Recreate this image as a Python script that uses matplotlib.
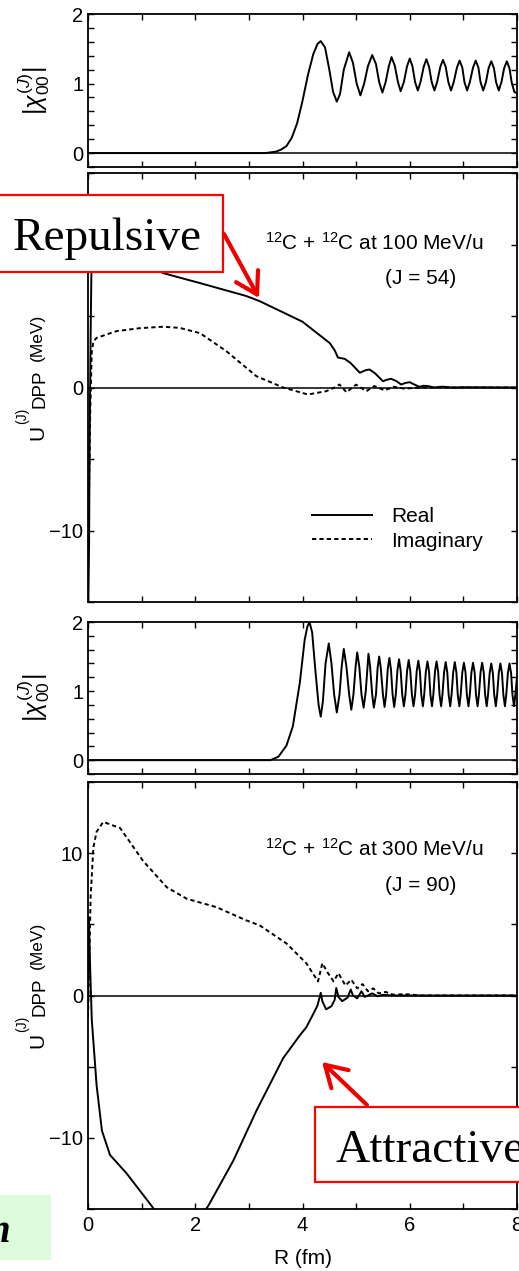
import matplotlib
matplotlib.use('Agg')
import matplotlib.pyplot as plt
from matplotlib.patches import Rectangle, FancyArrowPatch
from matplotlib.ticker import MultipleLocator

plt.rcParams['font.family'] = ['Liberation Sans', 'DejaVu Sans']
plt.rcParams['mathtext.fontset'] = 'custom'
plt.rcParams['mathtext.rm'] = 'Liberation Sans'
plt.rcParams['mathtext.it'] = 'Liberation Sans:italic'
plt.rcParams['mathtext.bf'] = 'Liberation Sans:bold'
plt.rcParams['axes.linewidth'] = 1.3

# ---------------- data ----------------
# |chi| for 100 MeV/u, J=54
chi1_R = [0.0, 3.30, 3.50, 3.60, 3.70, 3.80, 3.90, 4.00, 4.10, 4.20, 4.28, 4.34, 4.42, 4.50, 4.57,
          4.64, 4.70, 4.77, 4.87, 4.94, 5.01, 5.08, 5.15, 5.22, 5.30, 5.37, 5.43, 5.49, 5.55,
          5.61, 5.66, 5.72, 5.78, 5.83, 5.89, 5.95, 6.00, 6.05, 6.10, 6.15, 6.20, 6.26, 6.31,
          6.36, 6.41, 6.46, 6.51, 6.57, 6.62, 6.67, 6.72, 6.77, 6.82, 6.88, 6.93, 6.98, 7.02,
          7.07, 7.12, 7.18, 7.23, 7.28, 7.32, 7.37, 7.42, 7.47, 7.52, 7.57, 7.61, 7.66, 7.71,
          7.76, 7.81, 7.86, 7.90, 7.95, 8.00]
chi1_val = [0.0, 0.0, 0.02, 0.05, 0.10, 0.22, 0.43, 0.75, 1.12, 1.42, 1.57, 1.61, 1.52, 1.20, 0.88,
            0.74, 0.85, 1.20, 1.45, 1.30, 1.00, 0.83, 1.00, 1.25, 1.41, 1.28, 1.02, 0.87, 1.02,
            1.25, 1.38, 1.26, 1.02, 0.89, 1.02, 1.25, 1.36, 1.25, 1.02, 0.90, 1.02, 1.24, 1.35,
            1.24, 1.02, 0.90, 1.02, 1.24, 1.34, 1.24, 1.02, 0.90, 1.02, 1.23, 1.33, 1.23, 1.02,
            0.90, 1.02, 1.23, 1.33, 1.23, 1.02, 0.90, 1.02, 1.22, 1.32, 1.22, 1.02, 0.90, 1.02,
            1.22, 1.32, 1.22, 1.02, 0.88, 0.86]

# DPP for 100 MeV/u, J=54
u1_real_R = [0.0, 0.01, 0.02, 0.03, 0.05, 0.07, 0.10, 0.30, 0.60, 1.00, 1.40, 2.09, 2.95, 3.20,
             4.00, 4.51, 4.60, 4.66, 4.72, 4.79, 4.90, 5.07, 5.17, 5.25, 5.35, 5.50, 5.58, 5.65,
             5.75, 5.84, 5.92, 6.00, 6.09, 6.18, 6.26, 6.34, 6.45, 6.60, 6.80, 7.00, 8.00]
u1_real = [-16.0, -14.0, -11.0, -4.0, 4.0, 10.0, 12.5, 11.8, 10.5, 9.0, 8.0, 7.3, 6.4, 6.04,
           4.6, 3.1, 2.6, 2.1, 2.05, 2.0, 1.7, 1.03, 1.2, 1.26, 1.0, 0.44, 0.55, 0.61,
           0.45, 0.21, 0.32, 0.37, 0.2, 0.05, 0.12, 0.1, 0.0, 0.06, 0.0, 0.02, 0.0]
u1_imag_R = [0.0, 0.02, 0.04, 0.07, 0.10, 0.16, 0.53, 0.97, 1.40, 1.71, 2.09, 2.58, 3.14, 3.64,
             4.10, 4.44, 4.60, 4.69, 4.82, 5.00, 5.19, 5.34, 5.53, 5.70, 5.90, 6.20, 8.00]
u1_imag = [-7.5, -7.0, -2.0, 2.5, 3.2, 3.47, 3.94, 4.15, 4.25, 4.17, 3.8, 2.54, 0.79, 0.0,
           -0.49, -0.26, 0.0, 0.21, -0.33, 0.2, -0.26, 0.1, -0.2, 0.05, -0.08, 0.0, 0.0]

# |chi| for 300 MeV/u, J=90
chi2_R = [0.0, 3.40, 3.55, 3.70, 3.82, 3.95, 4.04, 4.09, 4.13, 4.18, 4.24, 4.30, 4.34, 4.38, 4.43,
          4.49, 4.54, 4.59, 4.64, 4.69, 4.73, 4.77, 4.82, 4.87, 4.91, 4.95, 4.99, 5.02, 5.06,
          5.10, 5.14, 5.18,
          5.23, 5.26, 5.30, 5.33, 5.37, 5.40, 5.43, 5.46, 5.50, 5.53, 5.56, 5.59, 5.62, 5.65,
          5.68, 5.71, 5.74, 5.77, 5.80, 5.83, 5.86, 5.89, 5.92, 5.95, 5.98, 6.01, 6.04, 6.07,
          6.10, 6.13, 6.16, 6.19, 6.215, 6.245, 6.27, 6.30, 6.33, 6.36, 6.385, 6.415, 6.44,
          6.47, 6.50, 6.53, 6.555, 6.585, 6.61, 6.64, 6.67, 6.70, 6.725, 6.755, 6.78, 6.81,
          6.84, 6.87, 6.895, 6.925, 6.95, 6.98, 7.01, 7.04, 7.065, 7.095, 7.12, 7.15, 7.18,
          7.21, 7.235, 7.265, 7.29, 7.32, 7.35, 7.38, 7.405, 7.435, 7.46, 7.49, 7.52, 7.55,
          7.575, 7.605, 7.63, 7.66, 7.69, 7.72, 7.745, 7.775, 7.80, 7.83, 7.86, 7.89, 7.915,
          7.945, 7.97, 8.00]
chi2_val = [0.0, 0.0, 0.05, 0.21, 0.49, 1.12, 1.74, 1.93, 2.0, 1.85, 1.3, 0.8, 0.63, 0.85, 1.4,
            1.69, 1.4, 0.95, 0.69, 0.95, 1.35, 1.61, 1.35, 0.95, 0.73, 0.95, 1.35, 1.56, 1.35,
            0.95, 0.76, 1.0,
            1.54, 1.36, 0.95, 0.76, 0.95, 1.33, 1.50, 1.33, 0.95, 0.77, 0.95, 1.32, 1.48, 1.31,
            0.95, 0.77, 0.95, 1.30, 1.46, 1.30, 0.95, 0.78, 0.95, 1.29, 1.45, 1.29, 0.95, 0.78,
            0.95, 1.29, 1.44, 1.28, 0.95, 0.78, 0.95, 1.28, 1.43, 1.28, 0.95, 0.78, 0.95,
            1.28, 1.43, 1.28, 0.95, 0.78, 0.95, 1.27, 1.42, 1.27, 0.95, 0.78, 0.95, 1.27,
            1.42, 1.27, 0.95, 0.78, 0.95, 1.27, 1.41, 1.27, 0.95, 0.78, 0.95, 1.27, 1.41,
            1.27, 0.95, 0.78, 0.95, 1.27, 1.41, 1.27, 0.95, 0.78, 0.95, 1.26, 1.40, 1.26,
            0.95, 0.78, 0.95, 1.26, 1.40, 1.26, 0.95, 0.78, 0.95, 1.26, 1.40, 1.26, 0.95,
            0.78, 0.95, 1.20]

# DPP for 300 MeV/u, J=90
u2_real_R = [0.0, 0.015, 0.04, 0.07, 0.16, 0.26, 0.41, 0.72, 1.19, 1.50, 1.90, 2.24, 2.71, 3.14,
             3.64, 3.95, 4.07, 4.20, 4.28, 4.34, 4.37, 4.44, 4.54, 4.60, 4.63, 4.67, 4.74, 4.84,
             4.90, 4.94, 5.02, 5.10, 5.16, 5.22, 5.30, 5.40, 5.50, 5.70, 6.00, 8.00]
u2_real = [-1.0, 5.5, 2.0, -1.67, -6.3, -9.5, -11.2, -12.5, -14.8, -16.5, -16.5, -14.8, -11.6,
           -8.1, -4.4, -2.8, -2.24, -1.3, -0.7, 0.19, -0.4, -0.97, -0.75, -0.3, 0.53, -0.1,
           -0.4, -0.15, 0.42, 0.0, -0.2, 0.3, -0.1, 0.0, 0.15, -0.05, 0.05, 0.0, 0.0, 0.0]
u2_imag_R = [0.0, 0.02, 0.05, 0.10, 0.16, 0.285, 0.60, 1.03, 1.47, 1.84, 2.40, 2.95, 3.20, 3.70,
             4.07, 4.29, 4.37, 4.47, 4.58, 4.67, 4.80, 4.91, 5.02, 5.12, 5.22, 5.32, 5.42, 5.55,
             5.70, 5.90, 6.20, 8.00]
u2_imag = [-1.5, 2.0, 7.0, 10.4, 11.5, 12.2, 11.76, 9.44, 7.6, 6.8, 6.2, 5.28, 4.93, 3.66,
           2.27, 0.99, 2.27, 1.6, 0.99, 1.57, 0.7, 1.11, 0.5, 0.8, 0.3, 0.5, 0.15, 0.25,
           0.05, 0.1, 0.0, 0.0]

x_ticks = [0, 2, 4, 6, 8]
chi_ticks = [0, 1, 2]
u_ticks = [-10, 0, 10]

# ---------------- figure ----------------
W, H = 519, 1271
fig = plt.figure(figsize=(W / 100, H / 100), dpi=100)


def fx(px):
    return px / W


def fy(py):
    return 1 - py / H


def make_axes(top, bottom):
    return fig.add_axes([fx(88), fy(bottom), fx(517) - fx(88), (bottom - top) / H])


def style(ax, yt, ymin, ylim, xlabels):
    ax.set_xlim(0, 8)
    ax.set_ylim(*ylim)
    ax.set_xticks(x_ticks)
    ax.xaxis.set_minor_locator(MultipleLocator(1))
    ax.set_yticks(yt)
    ax.yaxis.set_minor_locator(MultipleLocator(ymin))
    ax.tick_params(which='both', direction='in', top=True, right=True,
                   length=4.5, width=1.0, labelsize=14.5)
    ax.tick_params(axis='y', pad=3.5)
    ax.tick_params(axis='x', pad=5)
    if not xlabels:
        ax.tick_params(axis='x', labelbottom=False)
    ax.axhline(0, color='black', lw=1.1, zorder=1)


LW = 1.4
DOT = (0, (2.2, 1.6))
chi_label = r'$|\chi^{(J)}_{00}|$'


def u_label(dy):
    # y-axis label "U(J)DPP (MeV)" built from rotated pieces (pixel positions)
    kw = dict(rotation=90, rotation_mode='anchor', ha='left', va='baseline')
    fig.text(fx(43), fy(440 + dy), 'U', fontsize=15, **kw)
    fig.text(fx(26), fy(424 + dy), '(J)', fontsize=10, **kw)
    fig.text(fx(45), fy(408 + dy), 'DPP', fontsize=13.5, **kw)
    fig.text(fx(41.5), fy(361 + dy), '(MeV)', fontsize=12.5, **kw)


# panel 1
ax1 = make_axes(14, 167)
style(ax1, chi_ticks, 0.2, (-0.2, 2.0), False)
ax1.plot(chi1_R, chi1_val, color='black', lw=LW)
ax1.set_ylabel(chi_label, fontsize=18)
ax1.yaxis.set_label_coords(-0.084, 0.5)

# panel 2
ax2 = make_axes(173, 602)
style(ax2, u_ticks, 5, (-15, 15), False)
ax2.plot(u1_real_R, u1_real, color='black', lw=LW, label='Real')
ax2.plot(u1_imag_R, u1_imag, color='black', lw=LW, ls=DOT, label='Imaginary')
u_label(0)
ax2.text(3.30, 10.1, r'$^{12}$C + $^{12}$C at 100 MeV/u', fontsize=15, va='center', ha='left')
ax2.text(6.21, 7.6, '(J = 54)', fontsize=15, va='center', ha='center')
ax2.legend(loc='center left', bbox_to_anchor=(0.522, 0.170), frameon=False, fontsize=15,
           handlelength=2.9, handletextpad=0.9, labelspacing=0.25, borderpad=0,
           borderaxespad=0)

# panel 3
ax3 = make_axes(622, 774)
style(ax3, chi_ticks, 0.2, (-0.2, 2.0), False)
ax3.plot(chi2_R, chi2_val, color='black', lw=LW)
ax3.set_ylabel(chi_label, fontsize=18)
ax3.yaxis.set_label_coords(-0.084, 0.5)

# panel 4
ax4 = make_axes(782, 1209)
style(ax4, u_ticks, 5, (-15, 15), True)
ax4.plot(u2_real_R, u2_real, color='black', lw=LW)
ax4.plot(u2_imag_R, u2_imag, color='black', lw=LW, ls=DOT)
u_label(608)
ax4.set_xlabel('R (fm)', fontsize=15, labelpad=10)
ax4.text(3.30, 10.3, r'$^{12}$C + $^{12}$C at 300 MeV/u', fontsize=15, va='center', ha='left')
ax4.text(6.21, 7.7, '(J = 90)', fontsize=15, va='center', ha='center')

# ---------------- overlays ----------------
def rect_px(x0, y0, x1, y1, **kw):
    r = Rectangle((fx(x0), fy(y1)), fx(x1) - fx(x0), (y1 - y0) / H,
                  transform=fig.transFigure, zorder=10, **kw)
    fig.add_artist(r)


def arrow_px(x0, y0, x1, y1):
    a = FancyArrowPatch((fx(x0), fy(y0)), (fx(x1), fy(y1)), transform=fig.transFigure,
                        arrowstyle='->,head_length=0.75,head_width=0.45', mutation_scale=20,
                        color='#ee0000', lw=3.0, zorder=12, shrinkA=0, shrinkB=0)
    fig.add_artist(a)


rect_px(-3, 195, 222.7, 271.7, facecolor='white', edgecolor='red', lw=1.6)
fig.text(fx(12.7), fy(250), 'Repulsive', fontfamily='Liberation Serif', fontsize=34,
         va='baseline', ha='left', zorder=11)
arrow_px(224, 234, 259, 298)

rect_px(315, 1106.7, 540, 1182.3, facecolor='white', edgecolor='red', lw=1.6)
fig.text(fx(335), fy(1161.7), 'Attractive', fontfamily='Liberation Serif', fontsize=34,
         va='baseline', ha='left', zorder=11)
arrow_px(367, 1105, 322, 1062)

rect_px(-3, 1195, 50.7, 1260, facecolor='#dcfcdc', edgecolor='none')
fig.text(fx(10), fy(1242), 'n', fontfamily='Liberation Serif', fontsize=28, fontweight='bold',
         fontstyle='italic', va='baseline', ha='right', zorder=11)

fig.savefig('out.png', dpi=100)
